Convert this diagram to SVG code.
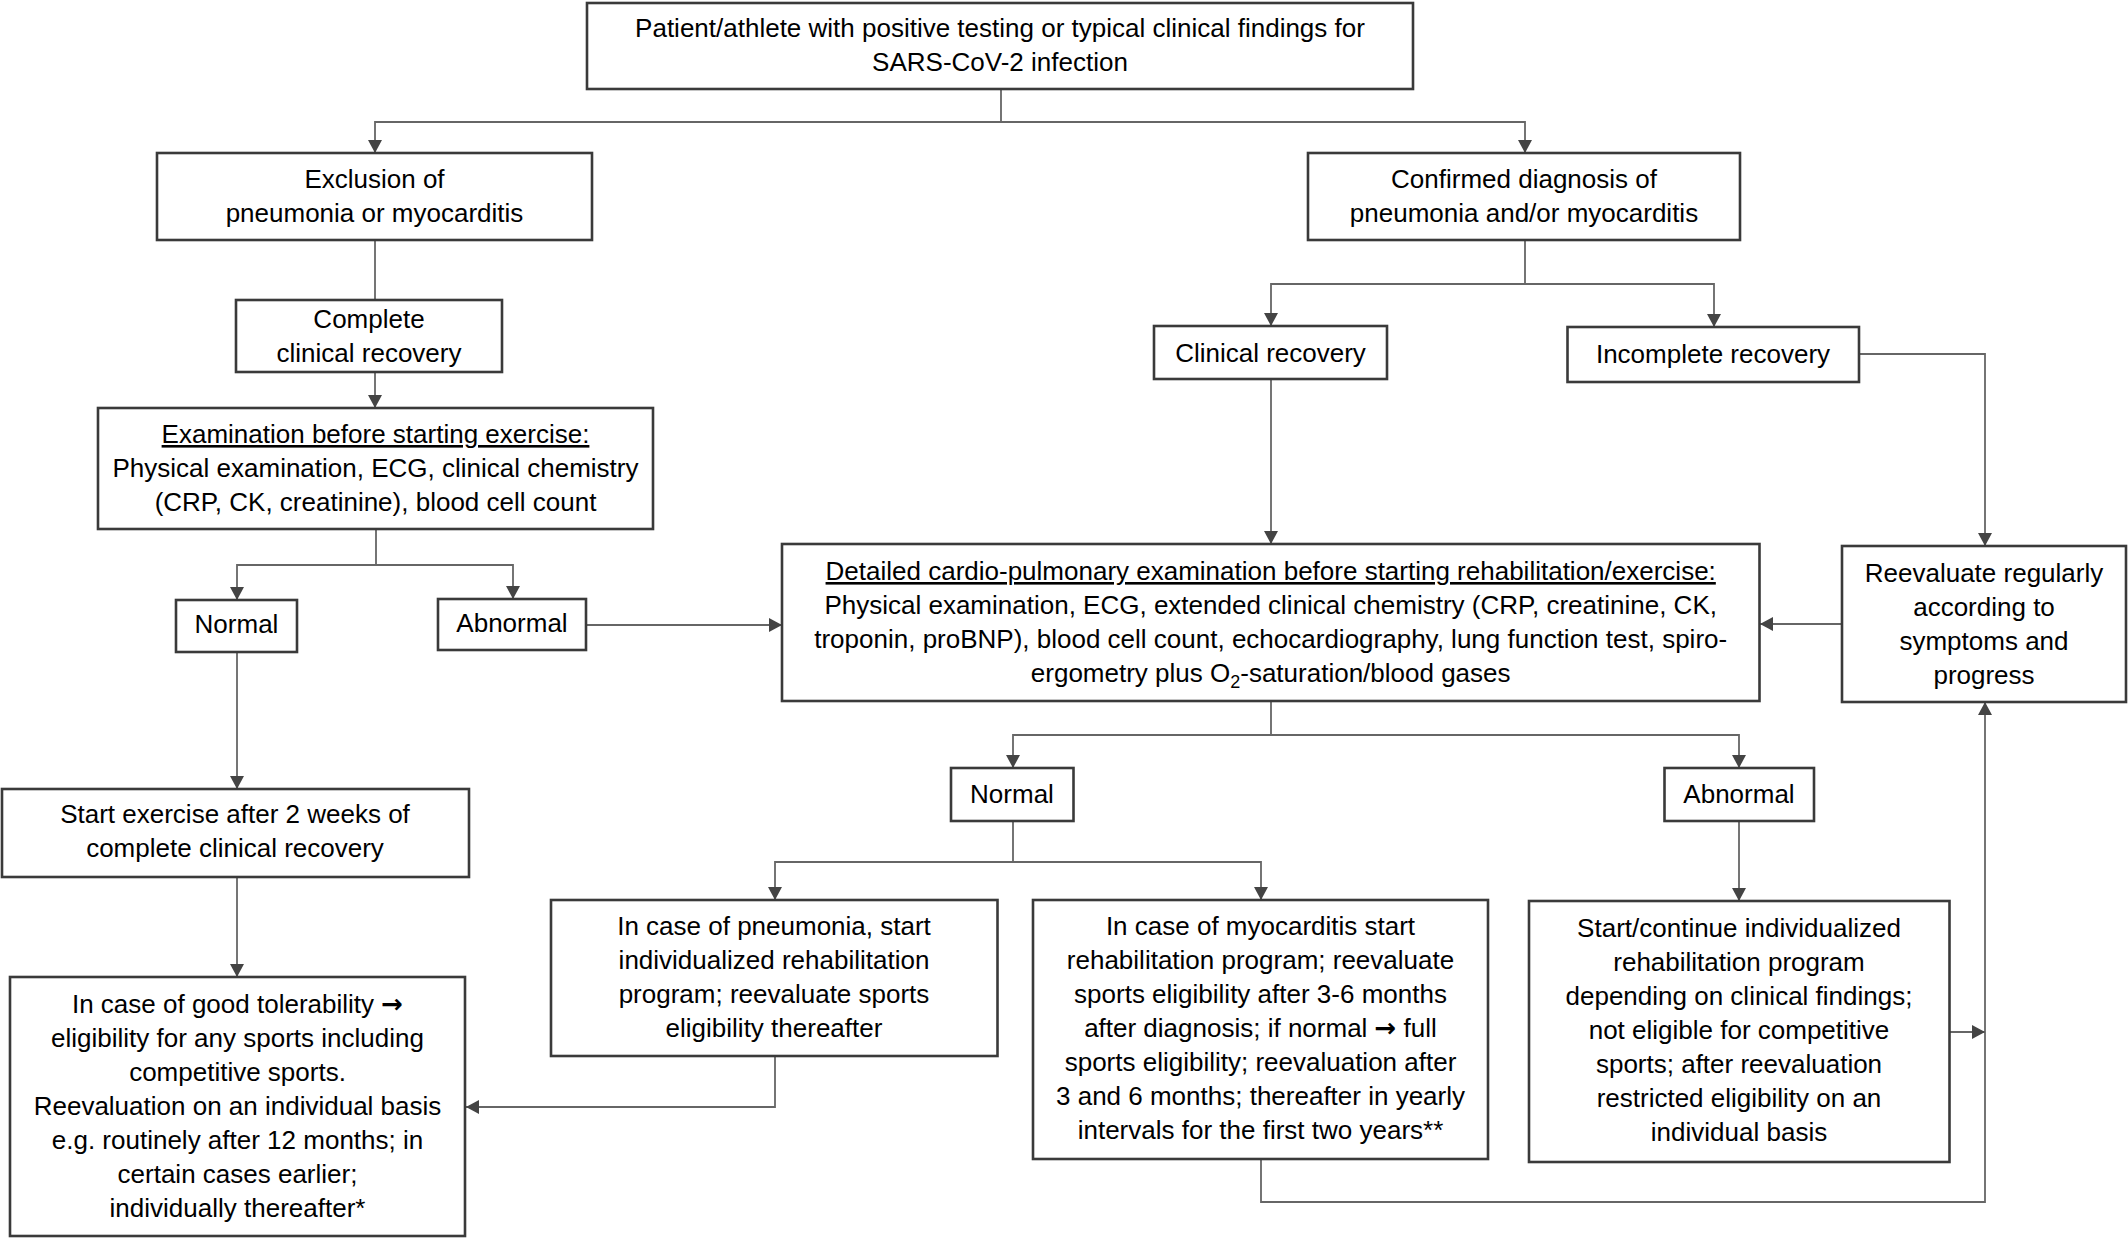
<svg xmlns="http://www.w3.org/2000/svg" width="2128" height="1238" viewBox="0 0 2128 1238">
<defs>
<style>
.box{fill:#fff;stroke:#3a3a3a;stroke-width:2.6}
.t{font-family:"Liberation Sans",Arial,sans-serif;font-size:26px;fill:#000;text-anchor:middle}
.u{text-decoration:underline}
.ar{font-family:"DejaVu Sans",sans-serif;font-weight:bold;font-size:26px}
.c{fill:none;stroke:#666;stroke-width:1.8}
</style>
<marker id="ah" markerUnits="userSpaceOnUse" markerWidth="15" markerHeight="15" refX="13" refY="7" orient="auto">
<path d="M0,0 L13,7 L0,14 z" fill="#444"/>
</marker>
</defs>
<rect width="2128" height="1238" fill="#fff"/>

<g id="connectors">
<path class="c" d="M1001,89 V122 H375 V153" marker-end="url(#ah)"/>
<path class="c" d="M1001,122 H1525 V153" marker-end="url(#ah)"/>
<path class="c" d="M375,240 V300"/>
<path class="c" d="M375,372 V408" marker-end="url(#ah)"/>
<path class="c" d="M376,529 V565 H237 V600" marker-end="url(#ah)"/>
<path class="c" d="M376,565 H513 V599" marker-end="url(#ah)"/>
<path class="c" d="M586,625 H782" marker-end="url(#ah)"/>
<path class="c" d="M237,652 V789" marker-end="url(#ah)"/>
<path class="c" d="M237,877 V977" marker-end="url(#ah)"/>
<path class="c" d="M1525,240 V284 H1271 V326" marker-end="url(#ah)"/>
<path class="c" d="M1525,284 H1714 V327" marker-end="url(#ah)"/>
<path class="c" d="M1271,379 V544" marker-end="url(#ah)"/>
<path class="c" d="M1859,354 H1985 V546" marker-end="url(#ah)"/>
<path class="c" d="M1842,624 H1760" marker-end="url(#ah)"/>
<path class="c" d="M1271,701 V735 H1013 V768" marker-end="url(#ah)"/>
<path class="c" d="M1271,735 H1739 V768" marker-end="url(#ah)"/>
<path class="c" d="M1013,821 V862 H775 V900" marker-end="url(#ah)"/>
<path class="c" d="M1013,862 H1261 V900" marker-end="url(#ah)"/>
<path class="c" d="M1739,821 V901" marker-end="url(#ah)"/>
<path class="c" d="M775,1056 V1107 H466" marker-end="url(#ah)"/>
<path class="c" d="M1261,1159 V1202 H1985 V702" marker-end="url(#ah)"/>
<path class="c" d="M1950,1032 H1985" marker-end="url(#ah)"/>
</g>

<g id="start">
<rect class="box" x="587" y="3" width="826" height="86"/>
<text class="t" x="1000" y="37">Patient/athlete with positive testing or typical clinical findings for</text>
<text class="t" x="1000" y="71">SARS-CoV-2 infection</text>
</g>

<g id="exclusion">
<rect class="box" x="157" y="153" width="435" height="87"/>
<text class="t" x="374.5" y="188">Exclusion of</text>
<text class="t" x="374.5" y="222">pneumonia or myocarditis</text>
</g>

<g id="complete">
<rect class="box" x="236" y="300" width="266" height="72"/>
<text class="t" x="369" y="328">Complete</text>
<text class="t" x="369" y="362">clinical recovery</text>
</g>

<g id="exam">
<rect class="box" x="98" y="408" width="555" height="121"/>
<text class="t u" x="375.5" y="443">Examination before starting exercise:</text>
<text class="t" x="375.5" y="477">Physical examination, ECG, clinical chemistry</text>
<text class="t" x="375.5" y="511">(CRP, CK, creatinine), blood cell count</text>
</g>

<g id="normal1">
<rect class="box" x="176" y="600" width="121" height="52"/>
<text class="t" x="236.5" y="633">Normal</text>
</g>

<g id="abnormal1">
<rect class="box" x="438" y="599" width="148" height="51"/>
<text class="t" x="512" y="632">Abnormal</text>
</g>

<g id="startexercise">
<rect class="box" x="2" y="789" width="467" height="88"/>
<text class="t" x="235" y="823">Start exercise after 2 weeks of</text>
<text class="t" x="235" y="857">complete clinical recovery</text>
</g>

<g id="tolerability">
<rect class="box" x="10" y="977" width="455" height="259"/>
<text class="t" x="237.5" y="1013">In case of good tolerability <tspan class="ar">→</tspan></text>
<text class="t" x="237.5" y="1047">eligibility for any sports including</text>
<text class="t" x="237.5" y="1081">competitive sports.</text>
<text class="t" x="237.5" y="1115">Reevaluation on an individual basis</text>
<text class="t" x="237.5" y="1149">e.g. routinely after 12 months; in</text>
<text class="t" x="237.5" y="1183">certain cases earlier;</text>
<text class="t" x="237.5" y="1217">individually thereafter*</text>
</g>

<g id="confirmed">
<rect class="box" x="1308" y="153" width="432" height="87"/>
<text class="t" x="1524" y="188">Confirmed diagnosis of</text>
<text class="t" x="1524" y="222">pneumonia and/or myocarditis</text>
</g>

<g id="clinicalrecovery">
<rect class="box" x="1154" y="326" width="233" height="53"/>
<text class="t" x="1270.5" y="362">Clinical recovery</text>
</g>

<g id="incomplete">
<rect class="box" x="1567.5" y="327" width="291.5" height="55"/>
<text class="t" x="1713" y="363">Incomplete recovery</text>
</g>

<g id="detailed">
<rect class="box" x="782" y="544" width="977.5" height="157"/>
<text class="t u" x="1270.7" y="580">Detailed cardio-pulmonary examination before starting rehabilitation/exercise:</text>
<text class="t" x="1270.7" y="614">Physical examination, ECG, extended clinical chemistry (CRP, creatinine, CK,</text>
<text class="t" x="1270.7" y="648">troponin, proBNP), blood cell count, echocardiography, lung function test, spiro-</text>
<text class="t" x="1270.7" y="682">ergometry plus O<tspan font-size="18" dy="6">2</tspan><tspan dy="-6">-saturation/blood gases</tspan></text>
</g>

<g id="reevaluate">
<rect class="box" x="1842" y="546" width="284" height="156"/>
<text class="t" x="1984" y="582">Reevaluate regularly</text>
<text class="t" x="1984" y="616">according to</text>
<text class="t" x="1984" y="650">symptoms and</text>
<text class="t" x="1984" y="684">progress</text>
</g>

<g id="normal2">
<rect class="box" x="951" y="768" width="122.5" height="53"/>
<text class="t" x="1012" y="803">Normal</text>
</g>

<g id="abnormal2">
<rect class="box" x="1664.5" y="768" width="149.5" height="53"/>
<text class="t" x="1739" y="803">Abnormal</text>
</g>

<g id="pneumonia">
<rect class="box" x="551" y="900" width="446.5" height="156"/>
<text class="t" x="774" y="935">In case of pneumonia, start</text>
<text class="t" x="774" y="969">individualized rehabilitation</text>
<text class="t" x="774" y="1003">program; reevaluate sports</text>
<text class="t" x="774" y="1037">eligibility thereafter</text>
</g>

<g id="myocarditis">
<rect class="box" x="1033" y="900" width="455" height="259"/>
<text class="t" x="1260.5" y="935">In case of myocarditis start</text>
<text class="t" x="1260.5" y="969">rehabilitation program; reevaluate</text>
<text class="t" x="1260.5" y="1003">sports eligibility after 3-6 months</text>
<text class="t" x="1260.5" y="1037">after diagnosis; if normal <tspan class="ar">→</tspan> full</text>
<text class="t" x="1260.5" y="1071">sports eligibility; reevaluation after</text>
<text class="t" x="1260.5" y="1105">3 and 6 months; thereafter in yearly</text>
<text class="t" x="1260.5" y="1139">intervals for the first two years**</text>
</g>

<g id="continue">
<rect class="box" x="1529" y="901" width="420.5" height="261"/>
<text class="t" x="1739" y="937">Start/continue individualized</text>
<text class="t" x="1739" y="971">rehabilitation program</text>
<text class="t" x="1739" y="1005">depending on clinical findings;</text>
<text class="t" x="1739" y="1039">not eligible for competitive</text>
<text class="t" x="1739" y="1073">sports; after reevaluation</text>
<text class="t" x="1739" y="1107">restricted eligibility on an</text>
<text class="t" x="1739" y="1141">individual basis</text>
</g>
</svg>
